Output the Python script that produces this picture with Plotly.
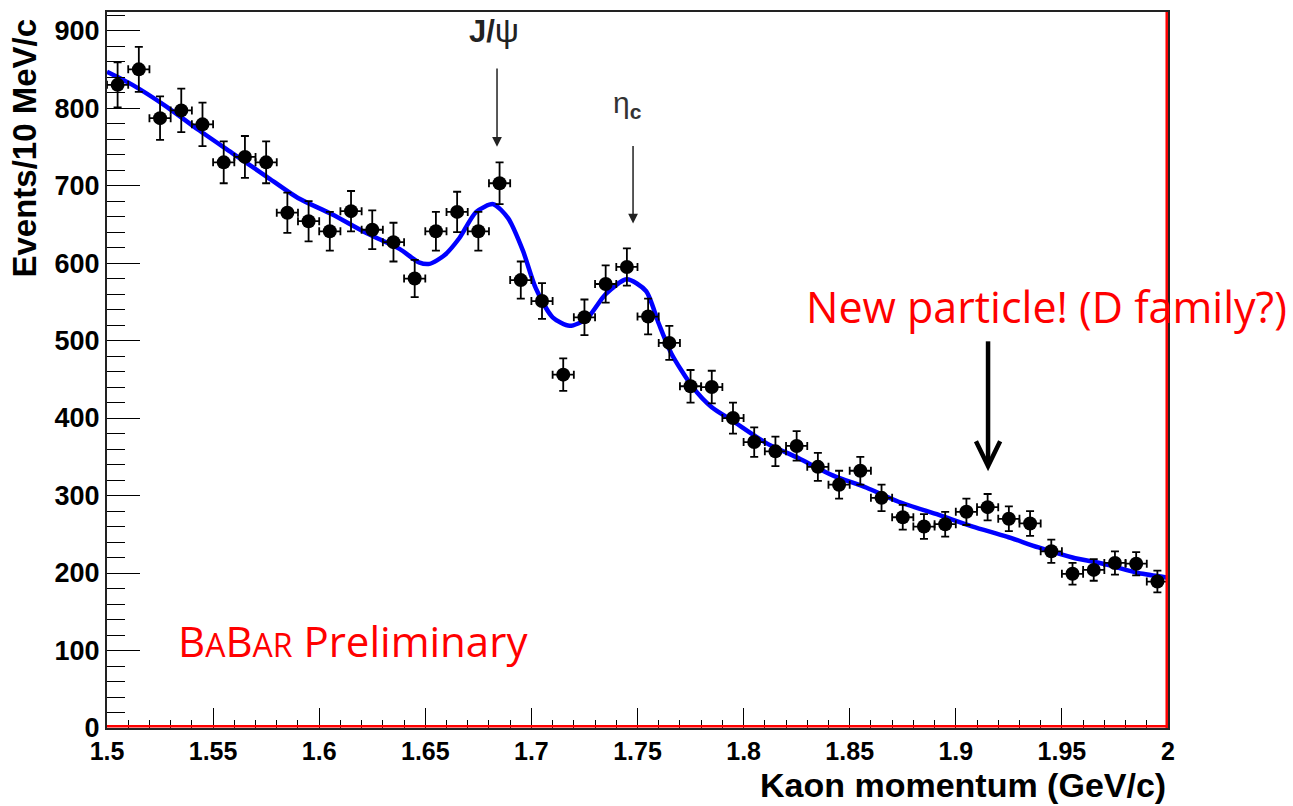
import plotly.graph_objects as go

# Bin centres (GeV/c) and measured events per 10 MeV/c
kaon_p = [1.505, 1.515, 1.525, 1.535, 1.545, 1.555, 1.565, 1.575, 1.585, 1.595,
          1.605, 1.615, 1.625, 1.635, 1.645, 1.655, 1.665, 1.675, 1.685, 1.695,
          1.705, 1.715, 1.725, 1.735, 1.745, 1.755, 1.765, 1.775, 1.785, 1.795,
          1.805, 1.815, 1.825, 1.835, 1.845, 1.855, 1.865, 1.875, 1.885, 1.895,
          1.905, 1.915, 1.925, 1.935, 1.945, 1.955, 1.965, 1.975, 1.985, 1.995]
events = [830, 850, 787, 797, 779, 730, 737, 730, 665, 654,
          641, 667, 643, 627, 580, 641, 666, 641, 703, 578,
          551, 456, 530, 573, 595, 531, 497, 441, 440, 400,
          369, 357, 364, 337, 314, 332, 297, 272, 260, 263,
          279, 285, 270, 264, 228, 199, 204, 213, 212, 189]
events_err = [29, 29, 28, 28, 28, 27, 27, 27, 26, 26,
              25, 26, 25, 25, 24, 25, 26, 25, 27, 24,
              23, 21, 23, 24, 24, 23, 22, 21, 21, 20,
              19, 19, 19, 18, 18, 18, 17, 16, 16, 16,
              17, 17, 16, 16, 15, 14, 14, 15, 15, 14]
bin_half_width = 0.005

# Fit curve
fit_x = [1.500, 1.512, 1.528, 1.543, 1.559, 1.575, 1.590, 1.606, 1.622, 1.638,
         1.647, 1.652, 1.659, 1.666, 1.674, 1.682, 1.689, 1.696, 1.702, 1.710,
         1.718, 1.726, 1.735, 1.745, 1.754, 1.760, 1.766, 1.776, 1.785, 1.7945,
         1.8105, 1.826, 1.842, 1.858, 1.873, 1.892, 1.908, 1.924, 1.939, 1.955,
         1.971, 1.986, 2.000]
fit_y = [847, 830, 802, 772, 742, 712, 684, 663, 639, 618,
         601, 599, 610, 632, 666, 676, 658, 616, 568, 530,
         519, 528, 560, 579, 564, 522, 483, 440, 414, 397,
         368, 348, 326, 310, 292, 275, 260, 247, 233, 220,
         211, 200, 194]

x_ticks = [1.5, 1.55, 1.6, 1.65, 1.7, 1.75, 1.8, 1.85, 1.9, 1.95, 2.0]
x_tick_labels = ["1.5", "1.55", "1.6", "1.65", "1.7", "1.75", "1.8", "1.85", "1.9", "1.95", "2"]
y_ticks = [0, 100, 200, 300, 400, 500, 600, 700, 800, 900]

XTICKFONT = dict(family="Liberation Sans Narrow, Liberation Sans, Arial", size=25, color="black", weight="bold")
YTICKFONT = dict(family="Liberation Sans Narrow, Liberation Sans, Arial", size=27, color="black", weight="bold")
TITLEFONT = dict(family="Liberation Sans, Arial", size=33, color="black", weight="bold")
RED = "#ff0000"

fig = go.Figure()

fig.add_trace(go.Scatter(
    x=fit_x, y=fit_y, mode="lines",
    line=dict(color="#0000ff", width=4.5, shape="spline", smoothing=0.7),
    hoverinfo="skip", showlegend=False))

fig.add_trace(go.Scatter(
    x=kaon_p, y=events, mode="markers",
    marker=dict(color="black", size=14),
    error_y=dict(type="data", array=events_err, color="black", thickness=1.8, width=4),
    error_x=dict(type="constant", value=bin_half_width, color="black", thickness=1.8, width=4),
    showlegend=False))

# Arrows for J/psi and eta_c
fig.add_annotation(x=1.6838, y=750, ax=1.6838, ay=853, xref="x", yref="y", axref="x", ayref="y",
                   showarrow=True, arrowhead=2, arrowsize=1.3, arrowwidth=1.5, arrowcolor="#222", text="")
fig.add_annotation(x=1.7479, y=651, ax=1.7479, ay=753, xref="x", yref="y", axref="x", ayref="y",
                   showarrow=True, arrowhead=2, arrowsize=1.3, arrowwidth=1.5, arrowcolor="#222", text="")
fig.add_annotation(x=1.6824, y=901, xref="x", yref="y",
                   text="<b>J/</b><span style='font-size:34px'>ψ</span>", showarrow=False,
                   font=dict(family="Liberation Sans, Arial", size=31, color="#222"))
fig.add_annotation(x=1.7455, y=805, xref="x", yref="y", text="η<sub><b>c</b></sub>", showarrow=False,
                   font=dict(family="Liberation Sans, Arial", size=30, color="#333"))

# New particle arrow (thick, chevron head)
fig.add_shape(type="line", x0=1.9152, x1=1.9152, y0=499, y1=340, xref="x", yref="y",
              line=dict(color="black", width=4.5))
fig.add_shape(type="path", path="M 1.9095,370 L 1.9152,338 L 1.9209,370", xref="x", yref="y",
              line=dict(color="black", width=4.5))

fig.add_annotation(x=1.8285, y=544, xref="x", yref="y", xanchor="left", yanchor="middle",
                   text="New particle! (D family?)", showarrow=False,
                   font=dict(family="Open Sans, Noto Sans", size=43, color=RED))
fig.add_annotation(x=1.5325, y=113, xref="x", yref="y", xanchor="left", yanchor="middle",
                   text="B<span style='font-size:32px'>A</span>B<span style='font-size:32px'>AR</span> Preliminary",
                   showarrow=False,
                   font=dict(family="Open Sans, Noto Sans", size=42, color=RED))

# Axis titles
fig.add_annotation(x=1.0, y=-0.0794, xref="paper", yref="paper", xanchor="right", yanchor="middle",
                   text="Kaon momentum (GeV/c)", showarrow=False,
                   font=dict(family="Liberation Sans, Arial", size=34, color="black", weight="bold"))
fig.add_annotation(x=-0.0782, y=0.993, xref="paper", yref="paper", xanchor="center", yanchor="top",
                   text="Events/10 MeV/c", textangle=-90, showarrow=False, font=TITLEFONT)

# Red slide lines on right and bottom frame
fig.add_shape(type="line", xref="paper", yref="paper", x0=0.9988, x1=0.9988, y0=0, y1=1,
              line=dict(color=RED, width=2.5))
fig.add_shape(type="line", xref="paper", yref="paper", x0=0, x1=1, y0=0.0025, y1=0.0025,
              line=dict(color=RED, width=2.5))

fig.update_xaxes(range=[1.5, 2.0], tickvals=x_ticks, ticktext=x_tick_labels,
                 ticks="inside", ticklen=20, tickwidth=1.2, tickcolor="black",
                 minor=dict(ticks="inside", dtick=0.01, tick0=1.5, ticklen=8, tickwidth=1.2, tickcolor="black"),
                 showline=True, linecolor="#222", linewidth=2, mirror=True,
                 showgrid=False, zeroline=False, tickfont=XTICKFONT)
fig.update_yaxes(range=[0, 924], tickvals=y_ticks,
                 ticks="inside", ticklen=33, tickwidth=1.2, tickcolor="black",
                 minor=dict(ticks="inside", dtick=20, tick0=0, ticklen=18, tickwidth=1.2, tickcolor="black"),
                 showline=True, linecolor="#222", linewidth=2, mirror=True,
                 showgrid=False, zeroline=False, tickfont=YTICKFONT)

fig.update_layout(width=1293, height=806, margin=dict(l=107, r=125, t=10, b=78),
                  plot_bgcolor="white", paper_bgcolor="white", showlegend=False)

fig.write_html("out.html")
